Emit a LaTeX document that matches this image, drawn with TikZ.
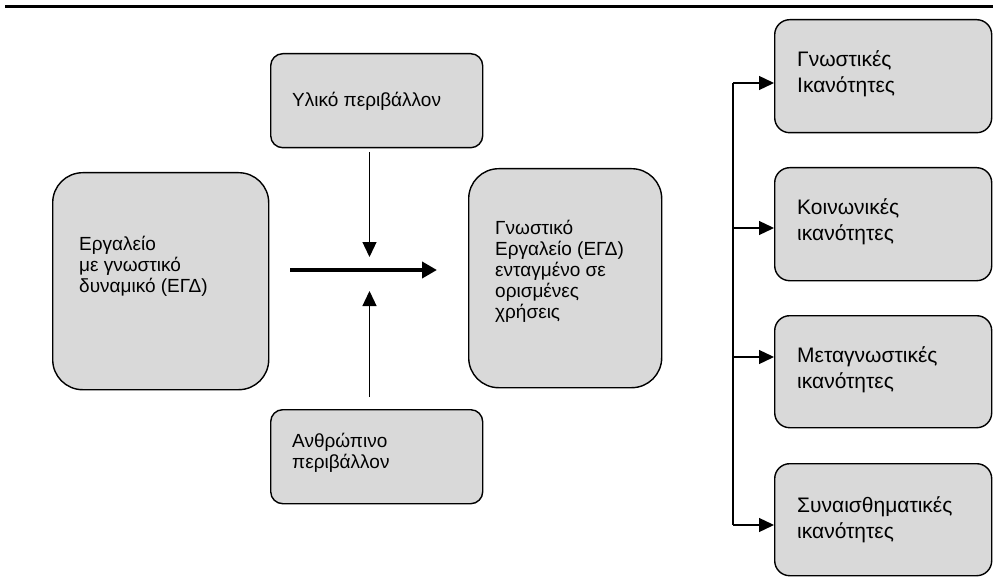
\documentclass[tikz,border=0pt]{standalone}
\usepackage{fontspec}
\setmainfont{Liberation Sans}
\usetikzlibrary{arrows.meta,calc}
\definecolor{boxgray}{HTML}{D9D9D9}
\begin{document}
\begin{tikzpicture}[x=1pt,y=-1pt,
  box/.style={draw=black, line width=1.4pt, fill=boxgray, rounded corners=#1,
    anchor=north west, inner sep=0pt},
  txt/.style={anchor=north west, inner sep=0pt, align=left,
    font=\fontsize{19}{21}\selectfont, execute at begin node=\strut},
  rtxt/.style={anchor=north west, inner sep=0pt, align=left,
    font=\fontsize{21}{26}\selectfont, execute at begin node=\strut},
  thin/.style={line width=1.3pt, -{Triangle[length=15pt,width=14pt]}},
  thick/.style={line width=4.6pt, -{Triangle[length=15pt,width=16pt]}},
  rarr/.style={line width=1.3pt, -{Triangle[length=15pt,width=14pt]}}]
\useasboundingbox (0,0) rectangle (993,580);
% top rule
\coordinate (ruleL) at (5,7);
\coordinate (ruleR) at (993,7);
\draw[line width=3pt] (ruleL) -- (ruleR);
% boxes
\node[box=12pt, minimum width=212pt, minimum height=94pt] (mat) at (270,53) {};
\node[box=30pt, minimum width=216pt, minimum height=217pt] (tool) at (52,172) {};
\node[box=30pt, minimum width=193pt, minimum height=219pt] (cog) at (468,168) {};
\node[box=12pt, minimum width=212pt, minimum height=94pt] (hum) at (270,409) {};
\node[box=15pt, minimum width=217pt, minimum height=113pt] (r1) at (774,19) {};
\node[box=15pt, minimum width=217pt, minimum height=113pt] (r2) at (774,167) {};
\node[box=15pt, minimum width=217pt, minimum height=112pt] (r3) at (774,315) {};
\node[box=15pt, minimum width=217pt, minimum height=112pt] (r4) at (774,463) {};
% texts
\node[txt] (matT) at (292,91.3) {Υλικό περιβάλλον};
\node[txt] (toolT) at (79,235.8) {Εργαλείο\\με γνωστικό\\δυναμικό (ΕΓΔ)};
\node[txt] (cogT) at (495,220) {Γνωστικό\\Εργαλείο (ΕΓΔ)\\ενταγμένο σε\\ορισμένες\\χρήσεις};
\node[txt] (humT) at (292,433) {Ανθρώπινο\\περιβάλλον};
\node[rtxt] (r1T) at (797,50.8) {Γνωστικές\\Ικανότητες};
\node[rtxt] (r2T) at (797,198.8) {Κοινωνικές\\ικανότητες};
\node[rtxt] (r3T) at (797,346.8) {Μεταγνωστικές\\ικανότητες};
\node[rtxt] (r4T) at (797,496.8) {Συναισθηματικές\\ικανότητες};
% central arrows
\coordinate (hS) at (290,270);
\coordinate (hE) at (437,270);
\draw[thick] (hS) -- (hE);
\coordinate (dS) at (369.5,152);
\coordinate (dE) at (369.5,257);
\draw[thin] (dS) -- (dE);
\coordinate (uS) at (369.5,397);
\coordinate (uE) at (369.5,291);
\draw[thin] (uS) -- (uE);
% right bracket
\coordinate (j1) at (733,83);
\coordinate (j2) at (733,228);
\coordinate (j3) at (733,357);
\coordinate (j4) at (733,525);
\draw[line width=1.3pt] (j1) -- (j4);
\draw[rarr] (j1) -- (r1.west |- j1);
\draw[rarr] (j2) -- (r2.west |- j2);
\draw[rarr] (j3) -- (r3.west |- j3);
\draw[rarr] (j4) -- (r4.west |- j4);
\end{tikzpicture}
\end{document}
